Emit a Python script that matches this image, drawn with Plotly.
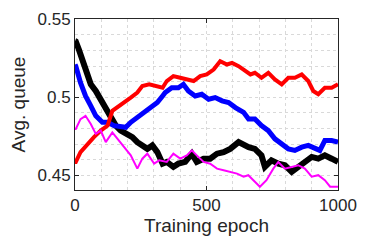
import plotly.graph_objects as go

# Readings from the reference (epoch, average queue)
black_x = [0, 3, 15, 28, 41, 60, 79, 98, 117, 136, 155, 174, 199, 218, 237, 256, 275, 294, 313, 333,
           349, 374, 393, 419, 444, 463, 489, 514, 540, 565, 590, 622, 641, 660,
           684, 709, 722, 747, 773, 798, 824, 849, 874, 900, 925, 950, 976, 1000]
black_y = [0.536, 0.5358, 0.5305, 0.5242, 0.5167, 0.5083, 0.504, 0.4987, 0.4934, 0.4881, 0.4818, 0.4786,
           0.4765, 0.4744, 0.4712, 0.4691, 0.4669, 0.4691, 0.4648, 0.4574,
           0.4585, 0.4553, 0.4574, 0.4585, 0.4638, 0.4585, 0.4606, 0.4606, 0.4638, 0.4648, 0.4669, 0.4712,
           0.4691, 0.468,
           0.4669, 0.4627, 0.4553, 0.4595, 0.4574, 0.4564, 0.4521, 0.4553, 0.4595, 0.4617, 0.4606, 0.4627,
           0.4606, 0.4585]

blue_x = [0, 3, 21, 40, 60, 79, 104, 124, 148, 174, 193, 212, 237, 263, 288, 313, 333,
          343, 368, 393, 412, 431, 457, 482, 508, 533, 559, 584, 610, 641, 660,
          684, 709, 735, 760, 786, 811, 836, 862, 887, 912, 931, 950, 976, 1000]
blue_y = [0.521, 0.5199, 0.5093, 0.5008, 0.4945, 0.4881, 0.4839, 0.4839, 0.4818, 0.4807, 0.4807, 0.4839,
          0.4871, 0.4903, 0.4934, 0.4966, 0.5008,
          0.503, 0.5061, 0.5061, 0.5083, 0.504, 0.5008, 0.5019, 0.4987, 0.4998, 0.4977, 0.4966, 0.4934,
          0.4903, 0.486,
          0.486, 0.4818, 0.4786, 0.4733, 0.4701, 0.4669, 0.4659, 0.468, 0.4691, 0.4669, 0.4659, 0.4722,
          0.4722, 0.4712]

red_x = [0, 3, 21, 47, 72, 98, 124, 142, 161, 187, 212, 237, 256, 282, 307, 333,
         349, 374, 400, 425, 451, 476, 501, 527, 552, 578, 597, 622, 648,
         667, 684, 709, 735, 760, 786, 811, 836, 862, 887, 906, 925, 950, 976, 1000]
red_y = [0.4585, 0.4585, 0.4648, 0.4701, 0.4744, 0.4786, 0.4818, 0.4913, 0.4934, 0.4966, 0.4998, 0.503,
         0.5072, 0.5083, 0.5072, 0.5061,
         0.5104, 0.5136, 0.5125, 0.5114, 0.5104, 0.5136, 0.5146, 0.5178, 0.5231, 0.521, 0.522, 0.5199,
         0.5167,
         0.5146, 0.5157, 0.5125, 0.5157, 0.5114, 0.5083, 0.5125, 0.5125, 0.5146, 0.5104, 0.504, 0.5019,
         0.5061, 0.5061, 0.5083]

mag_x = [0, 3, 21, 40, 60, 79, 98, 117, 142, 168, 187, 212, 237, 256, 275, 301, 320,
         349, 374, 400, 425, 444, 463, 489, 514, 540, 565, 590, 616, 641, 659,
         684, 703, 728, 754, 773, 798, 824, 849, 874, 900, 925, 950, 970, 1000]
mag_y = [0.4797, 0.4797, 0.486, 0.4881, 0.4828, 0.4765, 0.4786, 0.4712, 0.4775, 0.4722, 0.468, 0.4627,
         0.4542, 0.4606, 0.4638, 0.4574, 0.4595,
         0.4585, 0.4638, 0.4606, 0.4627, 0.4659, 0.4627, 0.4585, 0.4574, 0.4542, 0.4532, 0.4521, 0.451,
         0.449, 0.45,
         0.4458, 0.4426, 0.4468, 0.4542, 0.4585, 0.4542, 0.4553, 0.4564, 0.4542, 0.449, 0.45, 0.4468,
         0.4426, 0.4426]

x_ticks = [0, 500, 1000]
y_ticks = [0.45, 0.5, 0.55]
y_tick_text = ["0.45", "0.5", "0.55"]

FONT = "Liberation Sans, Arial"
TXT = "#262626"
GRID = "#D9D9D9"

fig = go.Figure()
for xs, ys, col, w in [(black_x, black_y, "#000000", 6),
                       (blue_x, blue_y, "#0000FF", 5),
                       (red_x, red_y, "#FF0000", 4),
                       (mag_x, mag_y, "#FF00FF", 2)]:
    fig.add_trace(go.Scatter(x=xs, y=ys, mode="lines",
                             line=dict(color=col, width=w), showlegend=False))

axis_common = dict(
    showline=True, linecolor=TXT, linewidth=1, mirror="ticks",
    ticks="inside", ticklen=4, tickcolor=TXT,
    showgrid=True, gridcolor=GRID, griddash="dot", gridwidth=1,
    zeroline=False, automargin=False,
    tickfont=dict(family=FONT, size=17, color=TXT),
)

fig.update_xaxes(range=[0, 1000], tickvals=x_ticks, ticktext=[str(v) for v in x_ticks],
                 minor=dict(dtick=100, showgrid=True, gridcolor=GRID, griddash="dot", ticks=""),
                 title=dict(text="Training epoch", standoff=4,
                            font=dict(family=FONT, size=19, color=TXT)),
                 **axis_common)
fig.update_yaxes(range=[0.4405, 0.5502], tickvals=y_ticks, ticktext=y_tick_text,
                 minor=dict(dtick=0.01, tick0=0.45, showgrid=True, gridcolor=GRID, griddash="dot", ticks=""),
                 title=dict(text="Avg. queue", standoff=6,
                            font=dict(family=FONT, size=19, color=TXT)),
                 **axis_common)

# page body has a default 8px margin, so the figure is sized/offset to compensate
fig.update_layout(width=366, height=241, margin=dict(l=67, r=36, t=11, b=59),
                  paper_bgcolor="white", plot_bgcolor="white")

fig.write_html("out.html")
